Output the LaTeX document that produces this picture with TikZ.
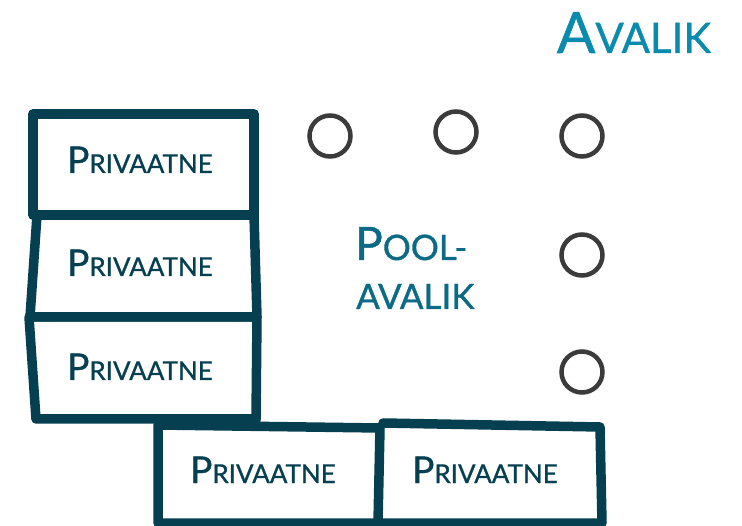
\documentclass[tikz,border=0pt]{standalone}
\usepackage{fontspec}
\setmainfont{Lato}[FakeBold=0.9]
\usetikzlibrary{calc}

\definecolor{kastvarv}{HTML}{053F50}
\definecolor{avalikvarv}{HTML}{0A8BAE}
\definecolor{poolvarv}{HTML}{0B6A86}
\definecolor{rongavarv}{HTML}{3B3B3B}

\newcommand{\privtekst}{{\fontsize{37}{37}\selectfont P}{\fontsize{26}{26}\selectfont RIVAATNE}}

\begin{document}
\begin{tikzpicture}[x=1pt,y=-1pt,
	kast/.style={draw=kastvarv,line width=9.5pt,line join=round,line cap=round},
	rong/.style={draw=rongavarv,line width=4.5pt},
	priv/.style={text=kastvarv,inner sep=0pt,anchor=base}]
					%\draw[help lines] (0,0) grid[step=50] (742,526);
					\useasboundingbox (0,0) rectangle (742,526);
					
					%KASTID
					\draw[kast] (33,114) -- (254,114) -- (254,215) -- (33,215) -- cycle;
					\draw[kast] (37,215) -- (254,215) -- (257,317) -- (30,317) -- cycle;
					\draw[kast] (29,317) -- (257,317) -- (256,419) -- (36,419) -- cycle;
					\draw[kast] (256,419) -- (255,426);
					\draw[kast] (158,425) -- (380,428) -- (378,523) -- (158,523) -- cycle;
					\draw[kast] (383,423) -- (600,427) -- (602,523) -- (380,523);
					
					%PRIVAATNE
					\node[priv] (p1) at (140,173) {\privtekst};
					\node[priv] (p2) at (140,276) {\privtekst};
					\node[priv] (p3) at (140,380) {\privtekst};
					\node[priv] (p4) at (263,483) {\privtekst};
					\node[priv] (p5) at (485,483) {\privtekst};
					
					%RONGAD
					\draw[rong] (330,136) circle (20.5);
					\draw[rong] (456,132) circle (20.5);
					\draw[rong] (582,136) circle (20.5);
					\draw[rong] (582,255) circle (20.5);
					\draw[rong] (582,372) circle (20.5);
					
					%AVALIK ja POOL-AVALIK
					\node[text=avalikvarv,inner sep=0pt,anchor=base] (avalik) at (634,53)
						{{\fontsize{57}{57}\selectfont A}{\fontsize{42}{42}\selectfont VALIK}};
					\node[text=poolvarv,inner sep=0pt,anchor=base west] (pool) at (355,260)
						{{\fontsize{46}{46}\selectfont P}{\fontsize{35}{35}\selectfont OOL-}};
					\node[text=poolvarv,inner sep=0pt,anchor=base west] (poolavalik) at (356,309)
						{\fontsize{35}{35}\selectfont AVALIK};
				  \end{tikzpicture}
\end{document}
